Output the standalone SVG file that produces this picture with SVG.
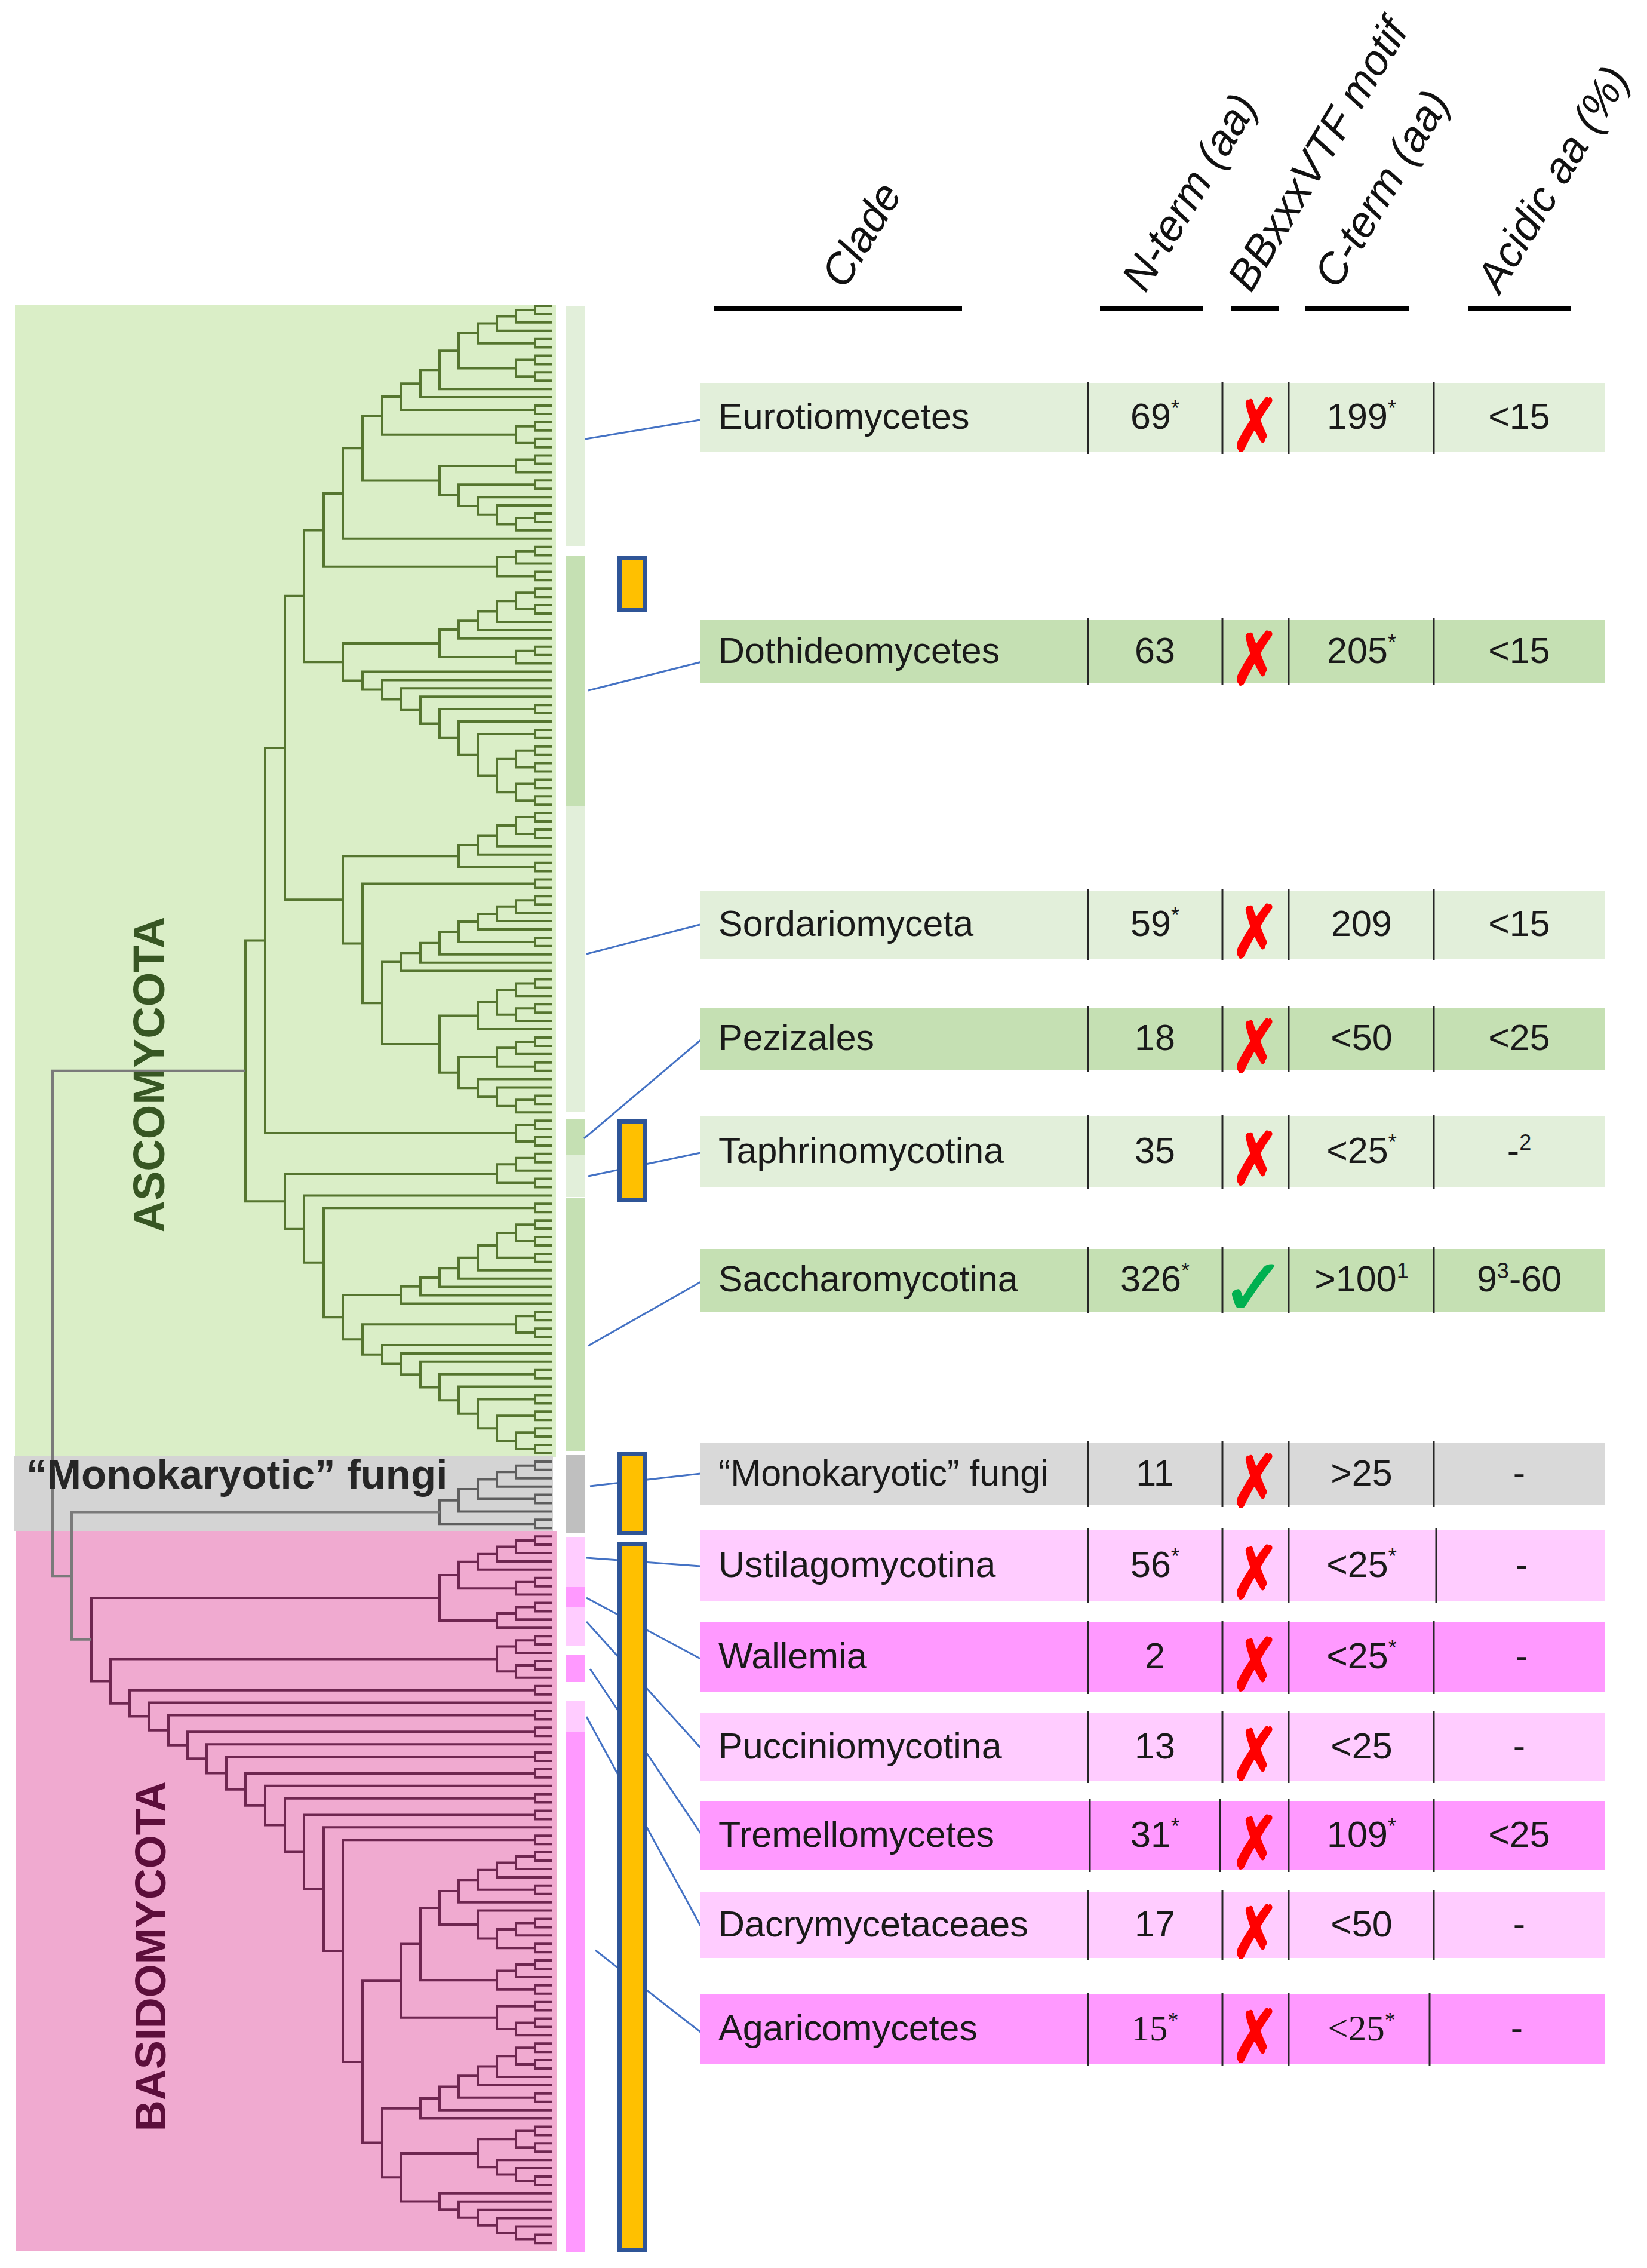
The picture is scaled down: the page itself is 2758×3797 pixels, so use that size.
<svg xmlns="http://www.w3.org/2000/svg" width="2758" height="3797" viewBox="0 0 2758 3797">
<style>
.t{font-family:"Liberation Sans",Arial,sans-serif;font-size:61px;fill:#1a1a1a}
.c{text-anchor:middle}
.sf{font-family:"Liberation Serif","Times New Roman",serif}
.s{font-size:36px}
.h{font-family:"Liberation Sans",Arial,sans-serif;font-size:72px;font-style:italic;fill:#111}
.x{font-family:"DejaVu Sans",sans-serif;font-size:96px;fill:#FF0000;stroke:#FF0000;stroke-width:3;text-anchor:middle}
.ok{font-family:"DejaVu Sans",sans-serif;font-size:134px;fill:#00B050;stroke:#00B050;stroke-width:2;text-anchor:middle}
.dv{stroke:#262626;stroke-width:3;fill:none}
.ul{stroke:#000;stroke-width:8}
.cn line{stroke:#4472C4;stroke-width:3}
.yb{fill:#FFC000;stroke:#2F5597;stroke-width:7}
.tr{fill:none;stroke-width:4;vector-effect:non-scaling-stroke}
.lg{fill:#E2EFDA}.dg{fill:#C5E0B3}.gy{fill:#D9D9D9}.lp{fill:#FFCCFF}.dp{fill:#FF99FF}
</style>

<!-- background panels -->
<g id="panels">
<rect x="25" y="510" width="906" height="1930" fill="#DAEEC7"/>
<rect x="23" y="2438" width="903" height="125" fill="#D4D4D4"/>
<rect x="27" y="2563" width="905" height="1205" fill="#F0AAD0"/>
</g>

<!-- clade strip -->
<g id="strip">
<rect x="948" y="512" width="32" height="402" class="lg"/>
<rect x="948" y="930" width="32" height="420" class="dg"/>
<rect x="948" y="1350" width="32" height="511" class="lg"/>
<rect x="948" y="1873" width="32" height="61" class="dg"/>
<rect x="948" y="1934" width="32" height="70" class="lg"/>
<rect x="948" y="2006" width="32" height="423" class="dg"/>
<rect x="948" y="2436" width="32" height="130" fill="#BFBFBF"/>
<rect x="948" y="2573" width="32" height="84" class="lp"/>
<rect x="948" y="2657" width="32" height="33" class="dp"/>
<rect x="948" y="2690" width="32" height="66" class="lp"/>
<rect x="948" y="2771" width="32" height="45" class="dp"/>
<rect x="948" y="2847" width="32" height="53" class="lp"/>
<rect x="948" y="2900" width="32" height="870" class="dp"/>
</g>

<!-- labels -->
<g id="label-ascomycota"><text transform="translate(275,1799) rotate(-90)" text-anchor="middle" font-family="Liberation Sans,Arial,sans-serif" font-weight="bold" font-size="74" fill="#375623">ASCOMYCOTA</text></g>
<g id="label-basidiomycota"><text transform="translate(277,3275) rotate(-90)" text-anchor="middle" font-family="Liberation Sans,Arial,sans-serif" font-weight="bold" font-size="72" fill="#5C0E3B">BASIDOMYCOTA</text></g>

<!-- tree -->
<g id="tree" transform="translate(0,512) scale(1,13.92)">
<path class="tr" stroke="#55752F" d="M925 0H896V1H925M896 0.5H864V2H925M864 1.25H832V3H925M925 4H896V5H925M832 2.125H800V4.5H896M925 6H896V7H925M925 8H896V9H925M896 6.5H864V8.5H896M800 3.3125H768V7.5H864M768 5.406H736V10H925M736 7.703H704V11H925M925 12H896V13H925M704 9.352H672V12.5H896M925 14H896V15H925M925 16H896V17H925M896 14.5H864V16.5H896M672 10.926H640V15.5H864M925 18H896V19H925M896 18.5H864V20H925M925 21H896V22H925M925 25H896V26H925M896 25.5H864V27H925M925 24H832V26.25H864M925 23H800V25.125H832M896 21.5H768V24.0625H800M864 19.25H736V22.78H768M640 13.213H607V21.02H736M607 17.12H574V28H925M925 29H896V30H925M896 29.5H864V31H925M925 32H896V33H925M864 30.25H832V32.5H896M574 22.56H542V31.375H832M925 34H896V35H925M925 36H896V37H925M896 34.5H864V36.5H896M864 35.5H832V38H925M832 36.75H800V39H925M800 37.875H768V40H925M925 41H896V42H925M896 41.5H864V43H925M768 38.94H736V42.25H864M925 53H896V54H925M925 55H896V56H925M896 53.5H864V55.5H896M925 57H896V58H925M925 59H896V60H925M896 57.5H864V59.5H896M864 54.5H832V58.5H864M925 51H896V52H925M896 51.5H800V56.5H832M925 50H768V54H800M925 48H896V49H925M896 48.5H736V52H768M925 47H704V50.25H736M925 46H672V48.625H704M925 45H640V47.31H672M925 44H607V46.16H640M736 40.59H574V45.08H607M542 26.97H509V42.84H574M925 61H896V62H925M925 63H896V64H925M896 61.5H864V63.5H896M864 62.5H832V65H925M832 63.75H800V66H925M925 67H896V68H925M800 64.875H768V67.5H896M925 69H896V70H925M925 71H896V72H925M896 71.5H864V73H925M864 72.25H832V74H925M832 73.125H800V75H925M925 76H896V77H925M800 74.06H768V76.5H896M768 75.28H736V78H925M736 76.64H704V79H925M704 77.82H672V80H925M925 81H896V82H925M896 81.5H864V83H925M925 84H896V85H925M896 84.5H864V86H925M864 82.25H832V85.25H864M832 83.75H800V87H925M925 88H896V89H925M896 88.5H864V90H925M925 91H896V92H925M864 89.25H832V91.5H896M925 95H896V96H925M896 95.5H864V97H925M925 94H832V96.25H864M925 93H800V95.125H832M832 90.375H768V94.06H800M800 85.375H736V92.22H768M672 78.91H640V88.8H736M896 69.5H607V83.85H640M768 66.19H574V76.68H607M509 34.9H477V71.43H574M925 98H896V99H925M925 100H896V101H925M896 98.5H864V100.5H896M477 53.16H444V99.5H864M925 102H896V103H925M896 102.5H864V104H925M925 105H896V106H925M864 103.25H832V105.5H896M925 108H896V109H925M925 110H896V111H925M925 112H896V113H925M896 110.5H864V112.5H896M925 114H896V115H925M864 111.5H832V114.5H896M832 113H800V116H925M800 114.5H768V117H925M768 115.75H736V118H925M736 116.875H704V119H925M704 117.94H672V120H925M925 121H896V122H925M925 123H896V124H925M896 121.5H864V123.5H896M925 135H896V136H925M925 137H896V138H925M896 135.5H864V137.5H896M925 133H896V134H925M896 133.5H832V136.5H864M925 131H896V132H925M896 131.5H800V135H832M925 130H768V133.25H800M925 128H896V129H925M896 128.5H736V131.625H768M925 127H704V130.06H736M925 126H672V128.53H704M925 125H640V127.27H672M864 122.5H607V126.13H640M672 118.97H574V124.3H607M896 108.5H542V121.64H574M925 107H509V115.07H542M832 104.375H477V111.04H509M444 76.33H411V107.7H477"/>
<path class="tr" stroke="#5E5E5E" d="M925 139H896V140H925M896 139.5H864V141H925M864 140.25H832V142H925M925 143H896V144H925M832 141.125H800V143.5H896M800 142.31H768V145H925M925 146H896V147H925M768 143.66H736V146.5H896"/>
<path class="tr" stroke="#6E2650" d="M925 148H896V149H925M896 148.5H864V150H925M864 149.25H832V151H925M832 150.125H800V152H925M925 153H896V154H925M896 153.5H864V155H925M800 151.06H768V154.25H864M925 156H896V157H925M896 156.5H864V158H925M864 157.25H832V159H925M768 152.66H736V158.125H832M925 160H896V161H925M896 160.5H864V162H925M925 163H896V164H925M896 163.5H864V165H925M864 161.25H832V164.25H864M925 166H896V167H925M925 169H896V170H925M925 171H896V172H925M925 174H896V175H925M925 176H896V177H925M925 179H896V180H925M925 181H896V182H925M925 184H896V185H925M925 186H896V187H925M896 186.5H864V188H925M864 187.25H832V189H925M925 190H896V191H925M832 188.125H800V190.5H896M800 189.31H768V192H925M925 194H896V195H925M896 194.5H864V196H925M925 197H896V198H925M864 195.25H832V197.5H896M925 193H800V196.375H832M768 190.66H736V194.69H800M925 199H896V200H925M896 199.5H864V201H925M925 202H896V203H925M864 200.25H832V202.5H896M736 192.67H704V201.375H832M925 204H896V205H925M925 206H896V207H925M896 206.5H864V208H925M896 204.5H832V207.25H864M704 197.02H672V205.875H832M925 209H896V210H925M925 211H896V212H925M896 209.5H864V211.5H896M864 210.5H832V213H925M832 211.75H800V214H925M925 215H896V216H925M800 212.875H768V215.5H896M768 214.19H736V217H925M736 215.59H704V218H925M925 219H896V220H925M925 221H896V222H925M896 219.5H864V221.5H896M925 225H896V226H925M925 224H864V225.5H896M925 223H832V224.75H864M864 220.5H800V223.875H832M925 232H896V233H925M925 231H864V232.5H896M925 230H832V231.75H864M925 229H800V230.875H832M925 228H768V229.94H800M925 227H736V228.97H768M800 222.19H672V227.98H736M704 216.8H640V225.09H672M672 201.45H607V220.95H640M896 184.5H574V211.2H607M925 183H542V197.85H574M896 181.5H509V190.43H542M896 179.5H477V185.96H509M925 178H444V182.73H477M896 176.5H411V180.37H444M896 174.5H379V178.43H411M925 173H346V176.47H379M896 171.5H314V174.73H346M896 169.5H282V173.12H314M925 168H250V171.31H282M896 166.5H217V169.65H250M832 162.75H185V168.08H217M736 155.39H153V165.41H185"/>
<path class="tr" stroke="#7A7A7A" d="M736 145.08H120V160.4H153M411 92H88V152.74H120"/>
</g>

<g id="label-monokaryotic"><text x="44" y="2492" font-family="Liberation Sans,Arial,sans-serif" font-weight="bold" font-size="69" fill="#262626">“Monokaryotic” fungi</text></g>

<!-- headers -->
<g id="headers">
<text class="h" transform="translate(1415,486) rotate(-59)">Clade</text>
<text class="h" transform="translate(1918,492) rotate(-59)">N-term (aa)</text>
<text class="h" transform="translate(2095,492) rotate(-59)">BBxxxVTF motif</text>
<text class="h" transform="translate(2240,486) rotate(-59)">C-term (aa)</text>
<text class="h" transform="translate(2512,494) rotate(-59)">Acidic aa (%)</text>
<line class="ul" x1="1196" y1="516" x2="1611" y2="516"/>
<line class="ul" x1="1842" y1="516" x2="2015" y2="516"/>
<line class="ul" x1="2061" y1="516" x2="2141" y2="516"/>
<line class="ul" x1="2186" y1="516" x2="2360" y2="516"/>
<line class="ul" x1="2458" y1="516" x2="2630" y2="516"/>
</g>

<!-- connectors -->
<g id="connectors" class="cn">
<line x1="980" y1="735" x2="1172" y2="703"/>
<line x1="985" y1="1156" x2="1175" y2="1108"/>
<line x1="982" y1="1597" x2="1172" y2="1548"/>
<line x1="978" y1="1906" x2="1177" y2="1738"/>
<line x1="985" y1="1969" x2="1173" y2="1930"/>
<line x1="985" y1="2253" x2="1177" y2="2144"/>
<line x1="988" y1="2488" x2="1173" y2="2467"/>
<line x1="982" y1="2608" x2="1173" y2="2622"/>
<line x1="982" y1="2675" x2="1173" y2="2777"/>
<line x1="982" y1="2715" x2="1173" y2="2926"/>
<line x1="988" y1="2794" x2="1173" y2="3069"/>
<line x1="982" y1="2874" x2="1173" y2="3224"/>
<line x1="997" y1="3265" x2="1173" y2="3402"/>
</g>

<!-- yellow boxes -->
<g id="boxes">
<rect class="yb" x="1037.5" y="933.5" width="42" height="88"/>
<rect class="yb" x="1037.5" y="1877.5" width="42" height="132"/>
<rect class="yb" x="1037.5" y="2434.5" width="42" height="132"/>
<rect class="yb" x="1037.5" y="2584.5" width="42" height="1182"/>
</g>

<!-- table rows -->
<g id="row-eurotiomycetes">
<rect x="1172" y="642" width="1516" height="115" class="lg"/>
<path class="dv" d="M1822 639V760M2047 639V760M2158 639V760M2401 639V760"/>
<text class="t" x="1203" y="718">Eurotiomycetes</text>
<text class="t c" x="1934" y="718">69<tspan class="s" dy="-22">*</tspan></text>
<text class="x" transform="translate(2102,753.5) scale(1,1.25)">✗</text>
<text class="t c" x="2280" y="718">199<tspan class="s" dy="-22">*</tspan></text>
<text class="t c" x="2544" y="718">&lt;15</text>
</g>
<g id="row-dothideomycetes">
<rect x="1172" y="1038" width="1516" height="106" class="dg"/>
<path class="dv" d="M1822 1035V1147M2047 1035V1147M2158 1035V1147M2401 1035V1147"/>
<text class="t" x="1203" y="1110">Dothideomycetes</text>
<text class="t c" x="1934" y="1110">63</text>
<text class="x" transform="translate(2102,1145) scale(1,1.25)">✗</text>
<text class="t c" x="2280" y="1110">205<tspan class="s" dy="-22">*</tspan></text>
<text class="t c" x="2544" y="1110">&lt;15</text>
</g>
<g id="row-sordariomyceta">
<rect x="1172" y="1491" width="1516" height="114" class="lg"/>
<path class="dv" d="M1822 1488V1608M2047 1488V1608M2158 1488V1608M2401 1488V1608"/>
<text class="t" x="1203" y="1567">Sordariomyceta</text>
<text class="t c" x="1934" y="1567">59<tspan class="s" dy="-22">*</tspan></text>
<text class="x" transform="translate(2102,1602) scale(1,1.25)">✗</text>
<text class="t c" x="2280" y="1567">209</text>
<text class="t c" x="2544" y="1567">&lt;15</text>
</g>
<g id="row-pezizales">
<rect x="1172" y="1687" width="1516" height="105" class="dg"/>
<path class="dv" d="M1822 1684V1795M2047 1684V1795M2158 1684V1795M2401 1684V1795"/>
<text class="t" x="1203" y="1758">Pezizales</text>
<text class="t c" x="1934" y="1758">18</text>
<text class="x" transform="translate(2102,1793.5) scale(1,1.25)">✗</text>
<text class="t c" x="2280" y="1758">&lt;50</text>
<text class="t c" x="2544" y="1758">&lt;25</text>
</g>
<g id="row-taphrinomycotina">
<rect x="1172" y="1869" width="1516" height="118" class="lg"/>
<path class="dv" d="M1822 1866V1990M2047 1866V1990M2158 1866V1990M2401 1866V1990"/>
<text class="t" x="1203" y="1947">Taphrinomycotina</text>
<text class="t c" x="1934" y="1947">35</text>
<text class="x" transform="translate(2102,1982) scale(1,1.25)">✗</text>
<text class="t c" x="2280" y="1947">&lt;25<tspan class="s" dy="-22">*</tspan></text>
<text class="t c" x="2544" y="1947">-<tspan class="s" dy="-22">2</tspan></text>
</g>
<g id="row-saccharomycotina">
<rect x="1172" y="2091" width="1516" height="105" class="dg"/>
<path class="dv" d="M1822 2088V2199M2047 2088V2199M2158 2088V2199M2401 2088V2199"/>
<text class="t" x="1203" y="2162">Saccharomycotina</text>
<text class="t c" x="1934" y="2162">326<tspan class="s" dy="-22">*</tspan></text>
<text class="ok" x="2100" y="2202">✓</text>
<text class="t c" x="2280" y="2162">&gt;100<tspan class="s" dy="-22">1</tspan></text>
<text class="t c" x="2544" y="2162">9<tspan class="s" dy="-22">3</tspan><tspan dy="22">-60</tspan></text>
</g>
<g id="row-monokaryotic">
<rect x="1172" y="2416" width="1516" height="104" class="gy"/>
<path class="dv" d="M1822 2413V2523M2047 2413V2523M2158 2413V2523M2401 2413V2523"/>
<text class="t" x="1203" y="2487">“Monokaryotic” fungi</text>
<text class="t c" x="1934" y="2487">11</text>
<text class="x" transform="translate(2102,2522) scale(1,1.25)">✗</text>
<text class="t c" x="2280" y="2487">&gt;25</text>
<text class="t c" x="2544" y="2487">-</text>
</g>
<g id="row-ustilagomycotina">
<rect x="1172" y="2561" width="1516" height="120" class="lp"/>
<path class="dv" d="M1822 2558V2684M2047 2558V2684M2158 2558V2684M2405 2558V2684"/>
<text class="t" x="1203" y="2640">Ustilagomycotina</text>
<text class="t c" x="1934" y="2640">56<tspan class="s" dy="-22">*</tspan></text>
<text class="x" transform="translate(2102,2675) scale(1,1.25)">✗</text>
<text class="t c" x="2280" y="2640">&lt;25<tspan class="s" dy="-22">*</tspan></text>
<text class="t c" x="2548" y="2640">-</text>
</g>
<g id="row-wallemia">
<rect x="1172" y="2716" width="1516" height="117" class="dp"/>
<path class="dv" d="M1822 2713V2836M2047 2713V2836M2158 2713V2836M2401 2713V2836"/>
<text class="t" x="1203" y="2793">Wallemia</text>
<text class="t c" x="1934" y="2793">2</text>
<text class="x" transform="translate(2102,2828.5) scale(1,1.25)">✗</text>
<text class="t c" x="2280" y="2793">&lt;25<tspan class="s" dy="-22">*</tspan></text>
<text class="t c" x="2548" y="2793">-</text>
</g>
<g id="row-pucciniomycotina">
<rect x="1172" y="2868" width="1516" height="114" class="lp"/>
<path class="dv" d="M1822 2865V2985M2047 2865V2985M2158 2865V2985M2401 2865V2985"/>
<text class="t" x="1203" y="2944">Pucciniomycotina</text>
<text class="t c" x="1934" y="2944">13</text>
<text class="x" transform="translate(2102,2979) scale(1,1.25)">✗</text>
<text class="t c" x="2280" y="2944">&lt;25</text>
<text class="t c" x="2544" y="2944">-</text>
</g>
<g id="row-tremellomycetes">
<rect x="1172" y="3015" width="1516" height="116" class="dp"/>
<path class="dv" d="M1825 3012V3134M2043 3012V3134M2158 3012V3134M2401 3012V3134"/>
<text class="t" x="1203" y="3092">Tremellomycetes</text>
<text class="t c" x="1934" y="3092">31<tspan class="s" dy="-22">*</tspan></text>
<text class="x" transform="translate(2102,3127) scale(1,1.25)">✗</text>
<text class="t c" x="2280" y="3092">109<tspan class="s" dy="-22">*</tspan></text>
<text class="t c" x="2544" y="3092">&lt;25</text>
</g>
<g id="row-dacrymycetaceaes">
<rect x="1172" y="3168" width="1516" height="110" class="lp"/>
<path class="dv" d="M1822 3165V3281M2047 3165V3281M2158 3165V3281M2401 3165V3281"/>
<text class="t" x="1203" y="3242">Dacrymycetaceaes</text>
<text class="t c" x="1934" y="3242">17</text>
<text class="x" transform="translate(2102,3277) scale(1,1.25)">✗</text>
<text class="t c" x="2280" y="3242">&lt;50</text>
<text class="t c" x="2544" y="3242">-</text>
</g>
<g id="row-agaricomycetes">
<rect x="1172" y="3339" width="1516" height="116" class="dp"/>
<path class="dv" d="M1822 3336V3458M2047 3336V3458M2158 3336V3458M2394 3336V3458"/>
<text class="t" x="1203" y="3416">Agaricomycetes</text>
<text class="t c sf" x="1934" y="3416">15<tspan class="s" dy="-22">*</tspan></text>
<text class="x" transform="translate(2102,3451) scale(1,1.25)">✗</text>
<text class="t c sf" x="2280" y="3416">&lt;25<tspan class="s" dy="-22">*</tspan></text>
<text class="t c" x="2540" y="3416">-</text>
</g>
</svg>
